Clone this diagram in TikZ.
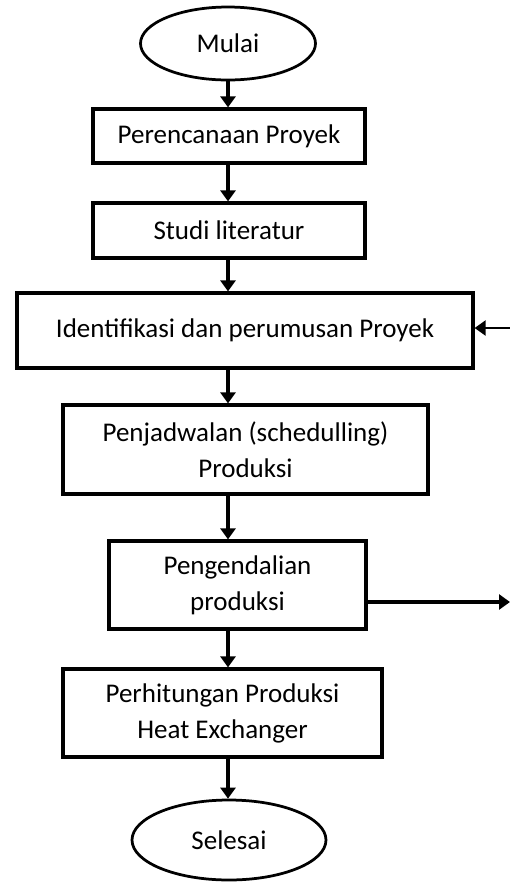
\documentclass[tikz,border=0pt]{standalone}
\usepackage{fontspec}
\setmainfont{Carlito}
\usepackage{tikz}
\usetikzlibrary{arrows.meta,positioning,calc,shapes.geometric}

\begin{document}
\begin{tikzpicture}[
  x=0.4pt,y=-0.4pt,
  every node/.style={font=\fontsize{10.8}{14.4}\selectfont,align=center,inner sep=0pt},
  procbox/.style={draw=black,line width=1.3pt,fill=white},
  termbox/.style={ellipse,draw=black,line width=1.1pt,fill=white},
  arrow/.style={-{Triangle[length=4.4pt,width=6pt]},draw=black,line width=1.3pt},
  thinarrow/.style={-{Triangle[length=4.4pt,width=6pt]},draw=black,line width=0.9pt}
]
\useasboundingbox (0,0) rectangle (510,882);
\node[termbox,minimum width=70pt,minimum height=29.2pt] (start) at (228,43.5) {Mulai};
\node[procbox,minimum width=108.8pt,minimum height=21.6pt] (p1) at (229,136) {Perencanaan Proyek};
\node[procbox,minimum width=108.8pt,minimum height=22pt] (p2) at (229,230.5) {Studi literatur};
\node[procbox,minimum width=182.4pt,minimum height=30pt] (p3) at (245,330.5) {Identifikasi dan perumusan Proyek};
\node[procbox,minimum width=146pt,minimum height=35.6pt] (p4) at (245.5,449.5) {Penjadwalan (schedulling)\\Produksi};
\node[procbox,minimum width=102.8pt,minimum height=35.2pt] (p5) at (237.5,585) {Pengendalian\\produksi};
\node[procbox,minimum width=127.6pt,minimum height=35.2pt] (p6) at (222.5,713) {Perhitungan Produksi\\Heat Exchanger};
\node[termbox,minimum width=77.6pt,minimum height=32pt] (stop) at (229,840) {Selesai};
\coordinate (fbin) at (510,328);
\coordinate (fbout) at (510,602);
% alur utama
\draw[arrow] (start.south) -- (start.south |- p1.north);
\draw[arrow] (p1.south -| start) -- (p2.north -| start);
\draw[arrow] (p2.south -| start) -- (p3.north -| start);
\draw[arrow] (p3.south -| start) -- (p4.north -| start);
\draw[arrow] (p4.south -| start) -- (p5.north -| start);
\draw[arrow] (p5.south -| start) -- (p6.north -| start);
\draw[arrow] (p6.south -| start) -- (stop.north -| start);
% panah samping
\draw[thinarrow] (fbin) -- (fbin -| p3.east);
\draw[arrow] (fbout -| p5.east) -- (fbout);
\end{tikzpicture}
\end{document}
